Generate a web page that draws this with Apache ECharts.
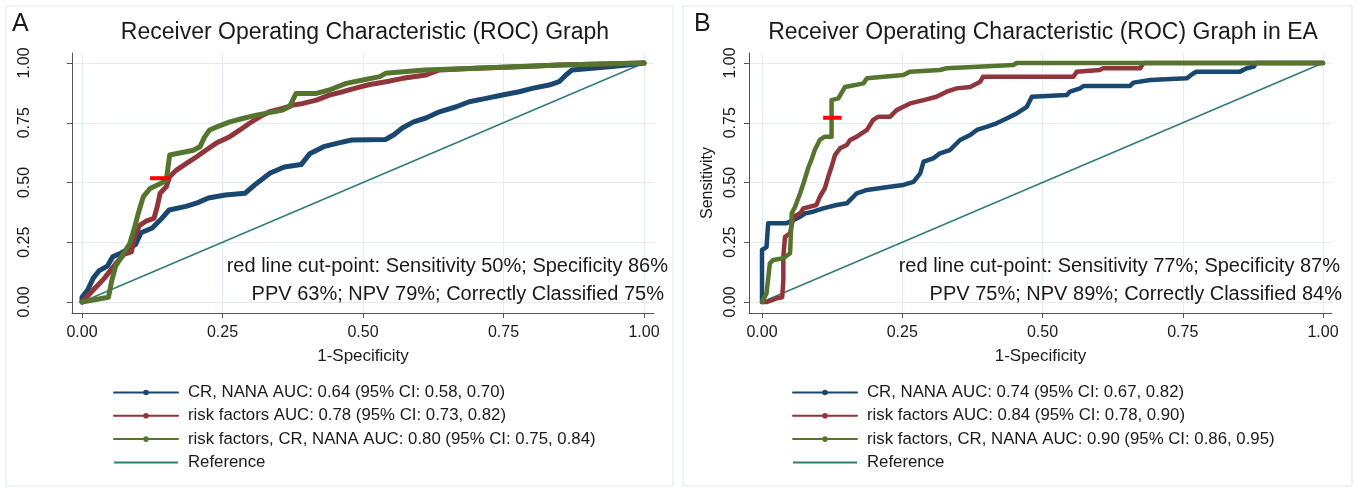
<!DOCTYPE html>
<html>
<head>
<meta charset="utf-8">
<script src="https://cdn.jsdelivr.net/npm/echarts@6/dist/echarts.min.js"></script>
<style>
    html, body { margin: 0; padding: 0; background: #fff; }
    #chart { width: 1358px; height: 489px; }
</style>
</head>
<body>
<div id="chart"></div>
<script>
    var ticks = [0, 0.25, 0.5, 0.75, 1];

    // panel A: all subjects
    var namesA = [
        'CR, NANA AUC: 0.64 (95% CI: 0.58, 0.70)',
        'risk factors AUC: 0.78 (95% CI: 0.73, 0.82)',
        'risk factors, CR, NANA AUC: 0.80 (95% CI: 0.75, 0.84)',
        'Reference'
    ];
    var crA = [[0,0],[0,0.02],[0.01,0.05],[0.02,0.1],[0.03,0.13],[0.045,0.15],[0.055,0.19],[0.07,0.205],[0.095,0.24],[0.105,0.29],[0.125,0.31],[0.14,0.345],[0.155,0.385],[0.185,0.4],[0.205,0.415],[0.225,0.435],[0.255,0.448],[0.29,0.455],[0.31,0.495],[0.335,0.54],[0.36,0.565],[0.39,0.575],[0.405,0.62],[0.43,0.65],[0.455,0.665],[0.48,0.678],[0.54,0.68],[0.555,0.7],[0.57,0.728],[0.59,0.754],[0.612,0.77],[0.636,0.796],[0.666,0.817],[0.689,0.838],[0.719,0.852],[0.748,0.866],[0.778,0.88],[0.801,0.894],[0.831,0.908],[0.849,0.922],[0.861,0.95],[0.872,0.971],[0.908,0.978],[0.943,0.985],[0.97,0.992],[1,1]];
    var riskA = [[0,0],[0.02,0.05],[0.04,0.1],[0.06,0.16],[0.075,0.2],[0.088,0.21],[0.092,0.26],[0.102,0.32],[0.115,0.34],[0.128,0.35],[0.134,0.4],[0.139,0.455],[0.15,0.483],[0.156,0.524],[0.168,0.552],[0.186,0.58],[0.204,0.608],[0.221,0.636],[0.239,0.665],[0.263,0.692],[0.281,0.72],[0.298,0.748],[0.316,0.775],[0.334,0.796],[0.357,0.81],[0.375,0.824],[0.393,0.831],[0.417,0.845],[0.44,0.866],[0.464,0.88],[0.49,0.897],[0.512,0.91],[0.541,0.922],[0.571,0.936],[0.612,0.95],[0.636,0.971],[0.701,0.978],[0.79,0.985],[0.849,0.992],[1,1]];
    var comboA = [[0,0],[0.047,0.02],[0.053,0.09],[0.06,0.15],[0.073,0.2],[0.085,0.245],[0.094,0.315],[0.1,0.37],[0.109,0.44],[0.121,0.475],[0.139,0.495],[0.15,0.51],[0.156,0.615],[0.198,0.635],[0.21,0.65],[0.218,0.69],[0.227,0.72],[0.24,0.733],[0.263,0.754],[0.286,0.768],[0.31,0.782],[0.357,0.803],[0.369,0.817],[0.381,0.873],[0.417,0.873],[0.44,0.887],[0.47,0.915],[0.5,0.929],[0.53,0.943],[0.54,0.957],[0.61,0.971],[0.7,0.978],[0.78,0.985],[0.85,0.992],[1,1]];
    var cutA = [[0.121,0.518],[0.156,0.518]];
    var noteA = ['red line cut-point: Sensitivity 50%; Specificity 86%', 'PPV 63%; NPV 79%; Correctly Classified 75%'];

    // panel B: EA
    var namesB = [
        'CR, NANA AUC: 0.74 (95% CI: 0.67, 0.82)',
        'risk factors AUC: 0.84 (95% CI: 0.78, 0.90)',
        'risk factors, CR, NANA AUC: 0.90 (95% CI: 0.86, 0.95)',
        'Reference '
    ];
    var crB = [[0,0],[0,0.218],[0.008,0.23],[0.011,0.33],[0.044,0.33],[0.056,0.343],[0.068,0.357],[0.077,0.371],[0.091,0.378],[0.109,0.392],[0.133,0.406],[0.151,0.413],[0.16,0.434],[0.169,0.455],[0.187,0.469],[0.228,0.482],[0.252,0.49],[0.27,0.503],[0.282,0.538],[0.288,0.587],[0.305,0.601],[0.317,0.622],[0.335,0.636],[0.353,0.678],[0.371,0.699],[0.383,0.72],[0.4,0.733],[0.418,0.748],[0.436,0.768],[0.454,0.789],[0.472,0.817],[0.481,0.859],[0.543,0.866],[0.549,0.88],[0.567,0.894],[0.573,0.904],[0.656,0.904],[0.662,0.918],[0.692,0.929],[0.757,0.936],[0.769,0.957],[0.775,0.964],[0.852,0.964],[0.864,0.978],[0.877,0.985],[0.88,1],[1,1]];
    var riskB = [[0,0],[0.008,0],[0.026,0.015],[0.036,0.02],[0.038,0.092],[0.038,0.19],[0.041,0.273],[0.05,0.287],[0.056,0.357],[0.068,0.371],[0.074,0.392],[0.097,0.406],[0.103,0.44],[0.112,0.476],[0.118,0.524],[0.124,0.566],[0.13,0.615],[0.139,0.643],[0.151,0.657],[0.157,0.678],[0.169,0.692],[0.187,0.72],[0.198,0.762],[0.207,0.775],[0.228,0.775],[0.24,0.803],[0.252,0.817],[0.264,0.831],[0.288,0.845],[0.311,0.859],[0.329,0.88],[0.347,0.894],[0.371,0.9],[0.389,0.922],[0.394,0.943],[0.555,0.943],[0.561,0.964],[0.602,0.971],[0.608,0.978],[0.674,0.978],[0.68,1],[1,1]];
    var comboB = [[0,0],[0.008,0.036],[0.014,0.162],[0.02,0.176],[0.038,0.183],[0.05,0.204],[0.053,0.371],[0.059,0.399],[0.068,0.455],[0.074,0.497],[0.083,0.566],[0.089,0.601],[0.094,0.636],[0.103,0.678],[0.112,0.692],[0.124,0.692],[0.124,0.845],[0.136,0.852],[0.148,0.9],[0.181,0.915],[0.187,0.936],[0.252,0.95],[0.264,0.964],[0.317,0.971],[0.329,0.978],[0.448,0.992],[0.454,1],[1,1]];
    var cutB = [[0.109,0.771],[0.142,0.771]];
    var noteB = ['red line cut-point: Sensitivity 77%; Specificity 87%', 'PPV 75%; NPV 89%; Correctly Classified 84%'];

    var refLine = [[0,0],[1,1]];

    var colors = ['#1a476f', '#90353b', '#55752f', '#2f7d72'];
    var font = '"Liberation Sans", Arial, sans-serif';
    var ink = '#1a1a1a';

    function xAxisOf(gi, min, max) {
        return {
            type: 'value', gridIndex: gi, min: min, max: max,
            name: '1-Specificity', nameLocation: 'middle', nameGap: 35,
            nameTextStyle: { fontSize: 17, color: ink, fontFamily: font },
            axisLine: { show: true, onZero: false, lineStyle: { color: '#555', width: 1 } },
            axisTick: { show: true, length: 5, customValues: ticks, lineStyle: { color: '#555' } },
            axisLabel: { customValues: ticks, fontSize: 16, color: ink, fontFamily: font, margin: 12,
                formatter: function (v) { return v.toFixed(2); } },
            splitLine: { show: true, lineStyle: { color: '#e3ecef', width: 1 } }
        };
    }
    function yAxisOf(gi, margin, name) {
        return {
            type: 'value', gridIndex: gi, min: -0.046, max: 1.042,
            name: name, nameLocation: 'middle', nameGap: 33,
            nameTextStyle: { fontSize: 16, color: ink, fontFamily: font },
            axisLine: { show: true, onZero: false, lineStyle: { color: '#555', width: 1 } },
            axisTick: { show: true, length: 5, customValues: ticks, lineStyle: { color: '#555' } },
            axisLabel: { customValues: ticks, rotate: 90, fontSize: 16, color: ink, fontFamily: font, margin: margin,
                formatter: function (v) { return v.toFixed(2); } },
            splitLine: { show: true, lineStyle: { color: '#e3ecef', width: 1 } }
        };
    }
    function rocSeries(name, data, gi, color, width) {
        return {
            name: name, type: 'line', data: data, xAxisIndex: gi, yAxisIndex: gi,
            symbol: 'circle', showSymbol: false, color: color,
            lineStyle: { color: color, width: width, cap: 'round', join: 'round' }
        };
    }
    function refSeries(name, gi) {
        return {
            name: name, type: 'line', data: refLine, xAxisIndex: gi, yAxisIndex: gi,
            symbol: 'none', color: colors[3], lineStyle: { color: colors[3], width: 1.5 }
        };
    }
    function cutSeries(data, gi) {
        return {
            type: 'line', data: data, xAxisIndex: gi, yAxisIndex: gi, symbol: 'none',
            lineStyle: { color: '#ff0000', width: 4 }, z: 5
        };
    }
    function legendOf(names, left) {
        return {
            orient: 'vertical', left: left, top: 384, padding: 0,
            itemWidth: 64, itemHeight: 7, itemGap: 6.3,
            data: [
                { name: names[0] }, { name: names[1] }, { name: names[2] },
                { name: names[3], icon: 'path://M0,0H64V2H0Z' }
            ],
            lineStyle: { width: 2 },
            textStyle: { fontSize: 16.8, lineHeight: 16, color: ink, fontFamily: font, padding: [0, 0, 0, 5] }
        };
    }
    function txt(x, y, s, size, align) {
        return { type: 'text', x: x, y: y, silent: true, z: 100,
            style: { text: s, fontSize: size, fontFamily: font, fill: ink,
                align: align, verticalAlign: 'middle', textAlign: align, textVerticalAlign: 'middle' } };
    }

    var chart = echarts.init(document.getElementById('chart'));
    chart.setOption({
        animation: false,
        backgroundColor: '#fff',
        grid: [
            { left: 72, top: 53, width: 582, height: 260 },
            { left: 749, top: 53, width: 583, height: 260 }
        ],
        xAxis: [xAxisOf(0, -0.0178, 1.0178), xAxisOf(1, -0.0232, 1.016)],
        yAxis: [yAxisOf(0, 39, ''), yAxisOf(1, 10, 'Sensitivity')],
        legend: [legendOf(namesA, 113), legendOf(namesB, 792)],
        series: [
            refSeries(namesA[3], 0),
            rocSeries(namesA[0], crA, 0, colors[0], 5),
            rocSeries(namesA[1], riskA, 0, colors[1], 5),
            rocSeries(namesA[2], comboA, 0, colors[2], 5),
            cutSeries(cutA, 0),
            refSeries(namesB[3], 1),
            rocSeries(namesB[0], crB, 1, colors[0], 4.5),
            rocSeries(namesB[1], riskB, 1, colors[1], 4.5),
            rocSeries(namesB[2], comboB, 1, colors[2], 4.5),
            cutSeries(cutB, 1)
        ],
        graphic: [
            { type: 'rect', shape: { x: 6, y: 6, width: 667, height: 480 }, silent: true, z: -10,
              style: { fill: 'none', stroke: '#dfe8ec', lineWidth: 1 } },
            { type: 'rect', shape: { x: 683, y: 6, width: 669, height: 480 }, silent: true, z: -10,
              style: { fill: 'none', stroke: '#dfe8ec', lineWidth: 1 } },
            txt(12, 24, 'A', 25, 'left'),
            txt(694, 24, 'B', 25, 'left'),
            txt(365, 33, 'Receiver Operating Characteristic (ROC) Graph', 23, 'center'),
            txt(1043, 33, 'Receiver Operating Characteristic (ROC) Graph in EA', 23, 'center'),
            txt(668, 266, noteA[0], 20, 'right'),
            txt(664, 294, noteA[1], 20, 'right'),
            txt(1340, 266, noteB[0], 20, 'right'),
            txt(1342, 294, noteB[1], 20, 'right')
        ]
    });
</script>
</body>
</html>
